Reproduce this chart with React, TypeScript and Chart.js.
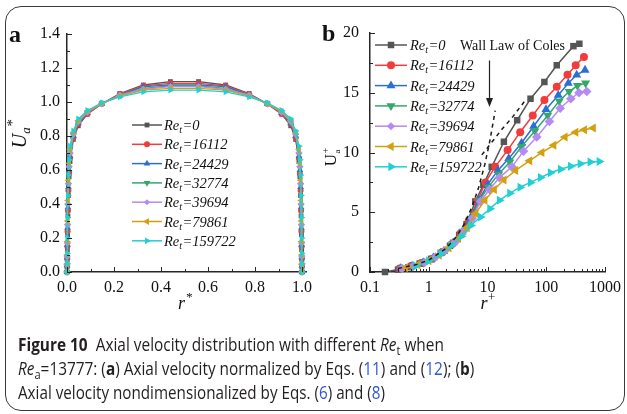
import React, { useEffect, useLayoutEffect, useRef } from 'react';
import { Chart, registerables } from 'chart.js';

Chart.register(...registerables);

// ---------------- data ----------------
const reT = ['0', '16112', '24429', '32774', '39694', '79861', '159722'];
const colors = ['#555555', '#f23b3b', '#2a6fd8', '#34a86b', '#b58af2', '#d3a012', '#22cfd2'];
const markerStyles = ['rect', 'circle', 'triangle', 'triangle', 'rectRot', 'triangle', 'triangle'];
const markerRot = [0, 0, 0, 180, 0, -90, 90];
const markerRadA = [3.4, 3, 3.9, 3.9, 3.6, 3.9, 3.9];
const markerRadB = [4.6, 4, 5.2, 5.2, 4.8, 5.2, 5.2];

// panel a
const xTicksA = [0, 0.2, 0.4, 0.6, 0.8, 1.0];
const yTicksA = [0, 0.2, 0.4, 0.6, 0.8, 1.0, 1.2, 1.4];
const rStar = [0, 0.0004, 0.0008, 0.0015, 0.0025, 0.004, 0.006, 0.009, 0.013, 0.027, 0.048, 0.087, 0.148, 0.225, 0.325, 0.44,
  0.56, 0.675, 0.775, 0.852, 0.913, 0.952, 0.973, 0.987, 0.991, 0.994, 0.996, 0.9975, 0.9985, 0.9992, 0.9996, 1.0];
const uStar0 = [0, 0.03, 0.07, 0.13, 0.22, 0.33, 0.45, 0.56, 0.65, 0.78, 0.86, 0.93, 0.99, 1.05, 1.10, 1.12,
  1.12, 1.10, 1.05, 0.99, 0.93, 0.86, 0.78, 0.65, 0.56, 0.45, 0.33, 0.22, 0.13, 0.07, 0.03, 0];
const uStar1 = [0, 0.035, 0.08, 0.15, 0.24, 0.36, 0.48, 0.58, 0.67, 0.79, 0.87, 0.93, 0.99, 1.045, 1.095, 1.11,
  1.11, 1.095, 1.045, 0.99, 0.93, 0.87, 0.79, 0.67, 0.58, 0.48, 0.36, 0.24, 0.15, 0.08, 0.035, 0];
const uStar2 = [0, 0.04, 0.085, 0.16, 0.26, 0.38, 0.5, 0.6, 0.68, 0.8, 0.875, 0.935, 0.99, 1.04, 1.09, 1.10,
  1.10, 1.09, 1.04, 0.99, 0.935, 0.875, 0.8, 0.68, 0.6, 0.5, 0.38, 0.26, 0.16, 0.085, 0.04, 0];
const uStar3 = [0, 0.04, 0.09, 0.17, 0.27, 0.39, 0.51, 0.61, 0.69, 0.805, 0.88, 0.94, 0.99, 1.04, 1.08, 1.095,
  1.095, 1.08, 1.04, 0.99, 0.94, 0.88, 0.805, 0.69, 0.61, 0.51, 0.39, 0.27, 0.17, 0.09, 0.04, 0];
const uStar4 = [0, 0.042, 0.09, 0.17, 0.28, 0.40, 0.52, 0.62, 0.70, 0.81, 0.885, 0.94, 0.99, 1.04, 1.075, 1.09,
  1.09, 1.075, 1.04, 0.99, 0.94, 0.885, 0.81, 0.70, 0.62, 0.52, 0.40, 0.28, 0.17, 0.09, 0.042, 0];
const uStar5 = [0, 0.045, 0.1, 0.18, 0.3, 0.42, 0.54, 0.64, 0.72, 0.82, 0.89, 0.945, 0.99, 1.035, 1.07, 1.08,
  1.08, 1.07, 1.035, 0.99, 0.945, 0.89, 0.82, 0.72, 0.64, 0.54, 0.42, 0.3, 0.18, 0.1, 0.045, 0];
const uStar6 = [0, 0.05, 0.11, 0.2, 0.32, 0.45, 0.57, 0.66, 0.74, 0.83, 0.9, 0.95, 0.995, 1.03, 1.06, 1.07,
  1.07, 1.06, 1.03, 0.995, 0.95, 0.9, 0.83, 0.74, 0.66, 0.57, 0.45, 0.32, 0.2, 0.11, 0.05, 0];
const seriesA = [uStar0, uStar1, uStar2, uStar3, uStar4, uStar5, uStar6];

// panel b
const xTicksB = [0.1, 1, 10, 100, 1000];
const yTicksB = [0, 5, 10, 15, 20];
const rPlus0 = [0.18, 0.3, 0.45, 0.7, 1.1, 1.6, 2.3, 3.3, 4.4, 6.2, 8.5, 11.8, 19, 32, 54, 93, 151, 290, 366];
const uPlus0 = [0, 0.2, 0.4, 0.7, 1.1, 1.6, 2.2, 3.1, 4.0, 5.9, 7.3, 8.8, 10.9, 12.7, 14.5, 15.9, 17.3, 18.9, 19.1];
const rPlus1 = [0.32, 0.5, 0.75, 1.15, 1.7, 2.5, 3.5, 4.8, 6.7, 9.2, 13.5, 22, 36, 59, 93, 151, 230, 317, 438];
const uPlus1 = [0.3, 0.5, 0.75, 1.1, 1.65, 2.35, 3.25, 4.3, 5.9, 7.5, 8.8, 10.2, 11.7, 13.1, 14.4, 15.5, 16.5, 17.3, 18.0];
const rPlus2 = [0.33, 0.52, 0.8, 1.2, 1.8, 2.6, 3.7, 5.1, 7.1, 10, 15, 23, 38, 61, 99, 160, 237, 330, 457];
const uPlus2 = [0.3, 0.5, 0.8, 1.2, 1.75, 2.45, 3.35, 4.45, 6.0, 7.3, 8.5, 9.5, 10.8, 12.2, 13.6, 14.8, 15.8, 16.5, 16.9];
const rPlus3 = [0.34, 0.53, 0.82, 1.25, 1.85, 2.7, 3.8, 5.3, 7.3, 10.3, 15.5, 24, 38, 64, 106, 166, 245, 339, 467];
const uPlus3 = [0.3, 0.5, 0.8, 1.2, 1.8, 2.5, 3.4, 4.5, 6.0, 7.1, 8.2, 9.2, 10.5, 11.8, 13.1, 14.3, 15.1, 15.6, 15.8];
const rPlus4 = [0.35, 0.55, 0.85, 1.3, 1.9, 2.8, 3.9, 5.5, 7.6, 10.8, 16, 26, 41, 69, 113, 173, 262, 361, 489];
const uPlus4 = [0.3, 0.5, 0.8, 1.25, 1.8, 2.5, 3.4, 4.5, 5.9, 6.9, 7.9, 8.8, 10.1, 11.3, 12.6, 13.7, 14.5, 15.0, 15.1];
const rPlus5 = [0.4, 0.65, 1.0, 1.5, 2.2, 3.2, 4.5, 6.3, 9, 13, 19, 30, 52, 84, 134, 208, 317, 445, 630];
const uPlus5 = [0.35, 0.6, 0.95, 1.4, 2.0, 2.8, 3.7, 4.9, 6.0, 6.9, 7.7, 8.5, 9.3, 10.0, 10.6, 11.3, 11.7, 11.9, 12.05];
const rPlus6 = [0.6, 1.0, 1.6, 2.4, 3.6, 5.2, 7.6, 11, 16, 24, 36, 54, 80, 118, 175, 260, 380, 560, 800];
const uPlus6 = [0.5, 0.95, 1.5, 2.2, 3.0, 3.9, 4.6, 5.3, 6.0, 6.6, 7.1, 7.5, 7.9, 8.3, 8.6, 8.85, 9.05, 9.2, 9.25];
const seriesBx = [rPlus0, rPlus1, rPlus2, rPlus3, rPlus4, rPlus5, rPlus6];
const seriesBy = [uPlus0, uPlus1, uPlus2, uPlus3, uPlus4, uPlus5, uPlus6];
// Wall law of Coles (dashed)
const colesViscR = [0.3, 0.6, 1, 2, 3, 4, 5.5, 7, 9, 11, 13.5];
const colesViscU = [0.3, 0.6, 1, 2, 3, 4, 5.5, 7, 9, 11, 13.5];
const colesLogR = [8, 12, 18, 27, 43];
const colesLogU = [9.8, 10.9, 12.0, 13.0, 14.3];
const arrowR = 10.7;
const arrowU = [17.7, 13.8];
const annotText = 'Wall Law of Coles';
const annotPos = [3.4, 18.9];

// ---------------- drawing helpers ----------------
const SERIF = '"Liberation Serif", "Times New Roman", serif';
const AXIS = '#262626';

function drawMarker(ctx: CanvasRenderingContext2D, style: string, rotDeg: number, x: number, y: number, r: number, color: string) {
  ctx.save();
  ctx.fillStyle = color;
  ctx.beginPath();
  let rad = (rotDeg * Math.PI) / 180;
  if (style === 'circle') {
    ctx.arc(x, y, r, 0, Math.PI * 2);
  } else if (style === 'rect') {
    const s = r * Math.SQRT1_2;
    ctx.rect(x - s, y - s, 2 * s, 2 * s);
  } else if (style === 'rectRot') {
    const s = r * Math.SQRT1_2 * 1.2;
    ctx.moveTo(x, y - s); ctx.lineTo(x + s, y); ctx.lineTo(x, y + s); ctx.lineTo(x - s, y);
    ctx.closePath();
  } else {
    ctx.moveTo(x + Math.sin(rad) * r, y - Math.cos(rad) * r);
    rad += (2 * Math.PI) / 3;
    ctx.lineTo(x + Math.sin(rad) * r, y - Math.cos(rad) * r);
    rad += (2 * Math.PI) / 3;
    ctx.lineTo(x + Math.sin(rad) * r, y - Math.cos(rad) * r);
    ctx.closePath();
  }
  ctx.fill();
  ctx.restore();
}

type Part = { t: string; font: string; dx?: number; dy?: number; advance?: boolean };
function partsWidth(ctx: CanvasRenderingContext2D, parts: Part[]) {
  let cx = 0;
  for (const p of parts) {
    ctx.font = p.font;
    const px = cx + (p.dx || 0);
    if (p.advance !== false) cx = px + ctx.measureText(p.t).width;
  }
  return cx;
}
function drawParts(ctx: CanvasRenderingContext2D, parts: Part[], x: number, y: number) {
  let cx = x;
  for (const p of parts) {
    ctx.font = p.font;
    const px = cx + (p.dx || 0);
    ctx.fillText(p.t, px, y + (p.dy || 0));
    if (p.advance !== false) cx = px + ctx.measureText(p.t).width;
  }
}

type DecorCfg = {
  id: string;
  xMajor: number[]; xMinor: number[]; yMajor: number[]; yMinor: number[];
  letter: string; letterX: number; letterY: number;
  legX0: number; legX1: number; legTextX: number; legY0: number; legDy: number; legR: number[];
  yTitle: Part[]; yTitleX: number; yTitleY: number;
  xTitle: Part[]; xTitleX: number; xTitleY: number;
  extra?: (chart: any) => void;
};

function makeDecor(cfg: DecorCfg) {
  return {
    id: cfg.id,
    afterDraw(chart: any) {
      const { ctx, chartArea: ca, scales } = chart;
      ctx.save();
      // inward ticks
      ctx.strokeStyle = AXIS;
      ctx.lineWidth = 1;
      ctx.beginPath();
      const xt = (vals: number[], len: number) => vals.forEach((v) => {
        const px = Math.round(scales.x.getPixelForValue(v)) + 0.5;
        ctx.moveTo(px, ca.bottom); ctx.lineTo(px, ca.bottom - len);
      });
      const yt = (vals: number[], len: number) => vals.forEach((v) => {
        const py = Math.round(scales.y.getPixelForValue(v)) + 0.5;
        ctx.moveTo(ca.left, py); ctx.lineTo(ca.left + len, py);
      });
      xt(cfg.xMajor, 5); xt(cfg.xMinor, 3); yt(cfg.yMajor, 5); yt(cfg.yMinor, 3);
      ctx.stroke();

      ctx.fillStyle = '#111';
      ctx.textBaseline = 'alphabetic';
      ctx.textAlign = 'left';
      // panel letter
      ctx.font = `bold 24px ${SERIF}`;
      ctx.fillText(cfg.letter, cfg.letterX, cfg.letterY);

      // y title (rotated)
      ctx.save();
      ctx.translate(cfg.yTitleX, cfg.yTitleY);
      ctx.rotate(-Math.PI / 2);
      const yw = partsWidth(ctx, cfg.yTitle);
      drawParts(ctx, cfg.yTitle, -yw / 2, 6);
      ctx.restore();

      // x title
      const xw = partsWidth(ctx, cfg.xTitle);
      drawParts(ctx, cfg.xTitle, cfg.xTitleX - xw / 2, cfg.xTitleY);

      // legend
      reT.forEach((lab, i) => {
        const y = cfg.legY0 + i * cfg.legDy;
        ctx.strokeStyle = colors[i];
        ctx.lineWidth = 1.5;
        ctx.beginPath();
        ctx.moveTo(cfg.legX0, y); ctx.lineTo(cfg.legX1, y);
        ctx.stroke();
        drawMarker(ctx, markerStyles[i], markerRot[i], (cfg.legX0 + cfg.legX1) / 2, y, cfg.legR[i], colors[i]);
        ctx.fillStyle = '#111';
        drawParts(ctx, [
          { t: 'Re', font: `italic 14.5px ${SERIF}` },
          { t: 't', font: `italic 10px ${SERIF}`, dy: 3 },
          { t: '=' + lab, font: `italic 14.5px ${SERIF}`, dx: 0.5 },
        ], cfg.legTextX, y + 5);
      });

      if (cfg.extra) cfg.extra(chart);
      ctx.restore();
    },
  };
}

function logMinors(): number[] {
  const out: number[] = [];
  [0.1, 1, 10, 100].forEach((d) => { for (let m = 2; m <= 9; m++) out.push(d * m); });
  return out;
}

const tickFont = { family: SERIF, size: 16 };

function PanelA() {
  const ref = useRef<HTMLCanvasElement>(null);
  useEffect(() => {
    if (!ref.current) return;
    const decor = makeDecor({
      id: 'decorA',
      xMajor: xTicksA, xMinor: [0.1, 0.3, 0.5, 0.7, 0.9],
      yMajor: yTicksA, yMinor: [0.1, 0.3, 0.5, 0.7, 0.9, 1.1, 1.3],
      letter: 'a', letterX: 9, letterY: 42,
      legX0: 132, legX1: 162, legTextX: 164, legY0: 125, legDy: 19.3, legR: markerRadA,
      yTitle: [
        { t: 'U', font: `italic 20px ${SERIF}` },
        { t: 'a', font: `italic 13px ${SERIF}`, dy: 4, dx: 0 },
        { t: '*', font: `italic 15px ${SERIF}`, dy: -9, dx: 0 },
      ],
      yTitleX: 20, yTitleY: 134,
      xTitle: [
        { t: 'r', font: `italic 18px ${SERIF}` },
        { t: '*', font: `italic 13px ${SERIF}`, dy: -8, dx: 0.5 },
      ],
      xTitleX: 185, xTitleY: 309,
    });
    const chart = new Chart(ref.current, {
      type: 'line',
      data: {
        datasets: seriesA.map((u, i) => ({
          label: 'Re_t=' + reT[i],
          data: rStar.map((x, j) => ({ x, y: u[j] })),
          borderColor: colors[i],
          backgroundColor: colors[i],
          pointBackgroundColor: colors[i],
          borderWidth: 1.3,
          pointStyle: markerStyles[i] as any,
          pointRotation: markerRot[i],
          pointRadius: markerRadA[i],
          pointBorderWidth: 0,
          tension: 0,
          clip: false as any,
          order: 6 - i,
        })),
      },
      options: {
        responsive: false,
        animation: false,
        devicePixelRatio: 1,
        layout: { padding: { left: 0, right: 14, top: 34, bottom: 0 } },
        plugins: { legend: { display: false }, tooltip: { enabled: false } },
        scales: {
          x: {
            type: 'linear', min: 0, max: 1.017,
            grid: { display: false, drawTicks: false },
            border: { display: true, color: AXIS, width: 1.5 },
            ticks: { color: '#111', font: tickFont, padding: 6, maxRotation: 0, autoSkip: false, callback: (v: any) => Number(v).toFixed(1) },
            afterBuildTicks: (s: any) => { s.ticks = xTicksA.map((v) => ({ value: v })); },
            afterFit: (s: any) => { s.height = 48; },
          },
          y: {
            type: 'linear', min: 0, max: 1.4,
            grid: { display: false, drawTicks: false },
            border: { display: true, color: AXIS, width: 1.5 },
            ticks: { color: '#111', font: tickFont, padding: 7, autoSkip: false, callback: (v: any) => Number(v).toFixed(1) },
            afterBuildTicks: (s: any) => { s.ticks = yTicksA.map((v) => ({ value: v })); },
            afterFit: (s: any) => { s.width = 67; },
          },
        },
      } as any,
      plugins: [decor],
    });
    return () => chart.destroy();
  }, []);
  return <canvas ref={ref} width={320} height={320} style={{ position: 'absolute', left: 0, top: 0, width: 320, height: 320 }} />;
}

function PanelB() {
  const ref = useRef<HTMLCanvasElement>(null);
  useEffect(() => {
    if (!ref.current) return;
    const decor = makeDecor({
      id: 'decorB',
      xMajor: xTicksB, xMinor: logMinors(),
      yMajor: yTicksB, yMinor: [2.5, 7.5, 12.5, 17.5],
      letter: 'b', letterX: 2, letterY: 41,
      legX0: 55, legX1: 87, legTextX: 90, legY0: 45, legDy: 20.3, legR: markerRadB,
      yTitle: [
        { t: 'U', font: `17px ${SERIF}` },
        { t: 'a', font: `9px ${SERIF}`, dy: 4, dx: 0.5, advance: false },
        { t: '+', font: `10px ${SERIF}`, dy: -7, dx: 0.5 },
      ],
      yTitleX: 10, yTitleY: 157,
      xTitle: [
        { t: 'r', font: `italic 18px ${SERIF}` },
        { t: '+', font: `13px ${SERIF}`, dy: -8, dx: 0.5 },
      ],
      xTitleX: 168, xTitleY: 309,
      extra: (chart: any) => {
        const { ctx, scales } = chart;
        const ax = Math.round(scales.x.getPixelForValue(arrowR)) + 0.5;
        const y0 = scales.y.getPixelForValue(arrowU[0]);
        const y1 = scales.y.getPixelForValue(arrowU[1]);
        ctx.strokeStyle = '#222';
        ctx.lineWidth = 1.2;
        ctx.beginPath();
        ctx.moveTo(ax, y0); ctx.lineTo(ax, y1 - 7);
        ctx.stroke();
        ctx.fillStyle = '#222';
        ctx.beginPath();
        ctx.moveTo(ax - 3.5, y1 - 9); ctx.lineTo(ax + 3.5, y1 - 9); ctx.lineTo(ax, y1);
        ctx.closePath(); ctx.fill();
        ctx.fillStyle = '#111';
        ctx.font = `14px ${SERIF}`;
        ctx.textBaseline = 'middle';
        ctx.fillText(annotText, scales.x.getPixelForValue(annotPos[0]), scales.y.getPixelForValue(annotPos[1]));
      },
    });
    const datasets: any[] = seriesBy.map((u, i) => ({
      label: 'Re_t=' + reT[i],
      data: seriesBx[i].map((x, j) => ({ x, y: u[j] })),
      borderColor: colors[i],
      backgroundColor: colors[i],
      pointBackgroundColor: colors[i],
      borderWidth: 1.5,
      pointStyle: markerStyles[i],
      pointRotation: markerRot[i],
      pointRadius: markerRadB[i],
      pointBorderWidth: 0,
      tension: 0,
      clip: false,
      order: 6 - i,
    }));
    datasets.push({
      label: 'Coles viscous',
      data: colesViscR.map((x, j) => ({ x, y: colesViscU[j] })),
      borderColor: '#1a1a1a', borderWidth: 1.5, borderDash: [4, 4], pointRadius: 0, tension: 0, order: -1, clip: false,
    });
    datasets.push({
      label: 'Coles log',
      data: colesLogR.map((x, j) => ({ x, y: colesLogU[j] })),
      borderColor: '#1a1a1a', borderWidth: 1.5, borderDash: [4, 4], pointRadius: 0, tension: 0, order: -1, clip: false,
    });
    const chart = new Chart(ref.current, {
      type: 'line',
      data: { datasets },
      options: {
        responsive: false,
        animation: false,
        devicePixelRatio: 1,
        layout: { padding: { left: 0, right: 19, top: 33, bottom: 0 } },
        plugins: { legend: { display: false }, tooltip: { enabled: false } },
        scales: {
          x: {
            type: 'logarithmic', min: 0.1, max: 1000,
            grid: { display: false, drawTicks: false },
            border: { display: true, color: AXIS, width: 1.5 },
            ticks: { color: '#111', font: tickFont, padding: 6, maxRotation: 0, autoSkip: false, callback: (v: any) => String(Number(v)) },
            afterBuildTicks: (s: any) => { s.ticks = xTicksB.map((v) => ({ value: v })); },
            afterFit: (s: any) => { s.height = 48; },
          },
          y: {
            type: 'linear', min: 0, max: 20,
            grid: { display: false, drawTicks: false },
            border: { display: true, color: AXIS, width: 1.5 },
            ticks: { color: '#111', font: tickFont, padding: 11, autoSkip: false, callback: (v: any) => String(v) },
            afterBuildTicks: (s: any) => { s.ticks = yTicksB.map((v) => ({ value: v })); },
            afterFit: (s: any) => { s.width = 50; },
          },
        },
      } as any,
      plugins: [decor],
    });
    return () => chart.destroy();
  }, []);
  return <canvas ref={ref} width={307} height={320} style={{ position: 'absolute', left: 320, top: 0, width: 307, height: 320 }} />;
}

function FitLine({ width, top, children }: { width: number; top: number; children: React.ReactNode }) {
  const ref = useRef<HTMLDivElement>(null);
  useLayoutEffect(() => {
    const fit = () => {
      const el = ref.current;
      if (!el) return;
      const w = el.offsetWidth; // layout width, unaffected by transform
      if (w > 0) el.style.transform = `scaleX(${width / w})`;
    };
    fit();
    const t1 = setTimeout(fit, 30);
    const t2 = setTimeout(fit, 200);
    if ((document as any).fonts && (document as any).fonts.ready) (document as any).fonts.ready.then(fit);
    return () => { clearTimeout(t1); clearTimeout(t2); };
  }, [width]);
  return (
    <div ref={ref} style={{ position: 'absolute', left: 18, top, whiteSpace: 'nowrap', transformOrigin: '0 0', lineHeight: '22px' }}>
      {children}
    </div>
  );
}

const blue = { color: '#2f57d4' };
const subStyle: React.CSSProperties = { fontSize: '0.72em', verticalAlign: '-0.3em', lineHeight: 0 };

export default function App() {
  return (
    <div style={{ position: 'absolute', left: 0, top: 0, width: 627, height: 414, background: '#fff', overflow: 'hidden' }}>
      <div style={{ position: 'absolute', left: 5, top: 6, width: 618, height: 403, border: '1px solid #3a3a3a', borderRadius: 16 }} />
      <PanelA />
      <PanelB />
      <div style={{ position: 'absolute', left: 0, top: 0, width: 627, height: 414, fontFamily: '"Open Sans", "Noto Sans", sans-serif', fontSize: 18, color: '#231f20' }}>
        <FitLine width={426} top={333}>
          <b>Figure 10</b>&nbsp; Axial velocity distribution with different <i>Re</i><span style={subStyle}>t</span> when
        </FitLine>
        <FitLine width={456} top={357}>
          <i>Re</i><span style={subStyle}>a</span>=13777: (<b>a</b>) Axial velocity normalized by Eqs. (<span style={blue}>11</span>) and (<span style={blue}>12</span>); (<b>b</b>)
        </FitLine>
        <FitLine width={367} top={381}>
          Axial velocity nondimensionalized by Eqs. (<span style={blue}>6</span>) and (<span style={blue}>8</span>)
        </FitLine>
      </div>
    </div>
  );
}
